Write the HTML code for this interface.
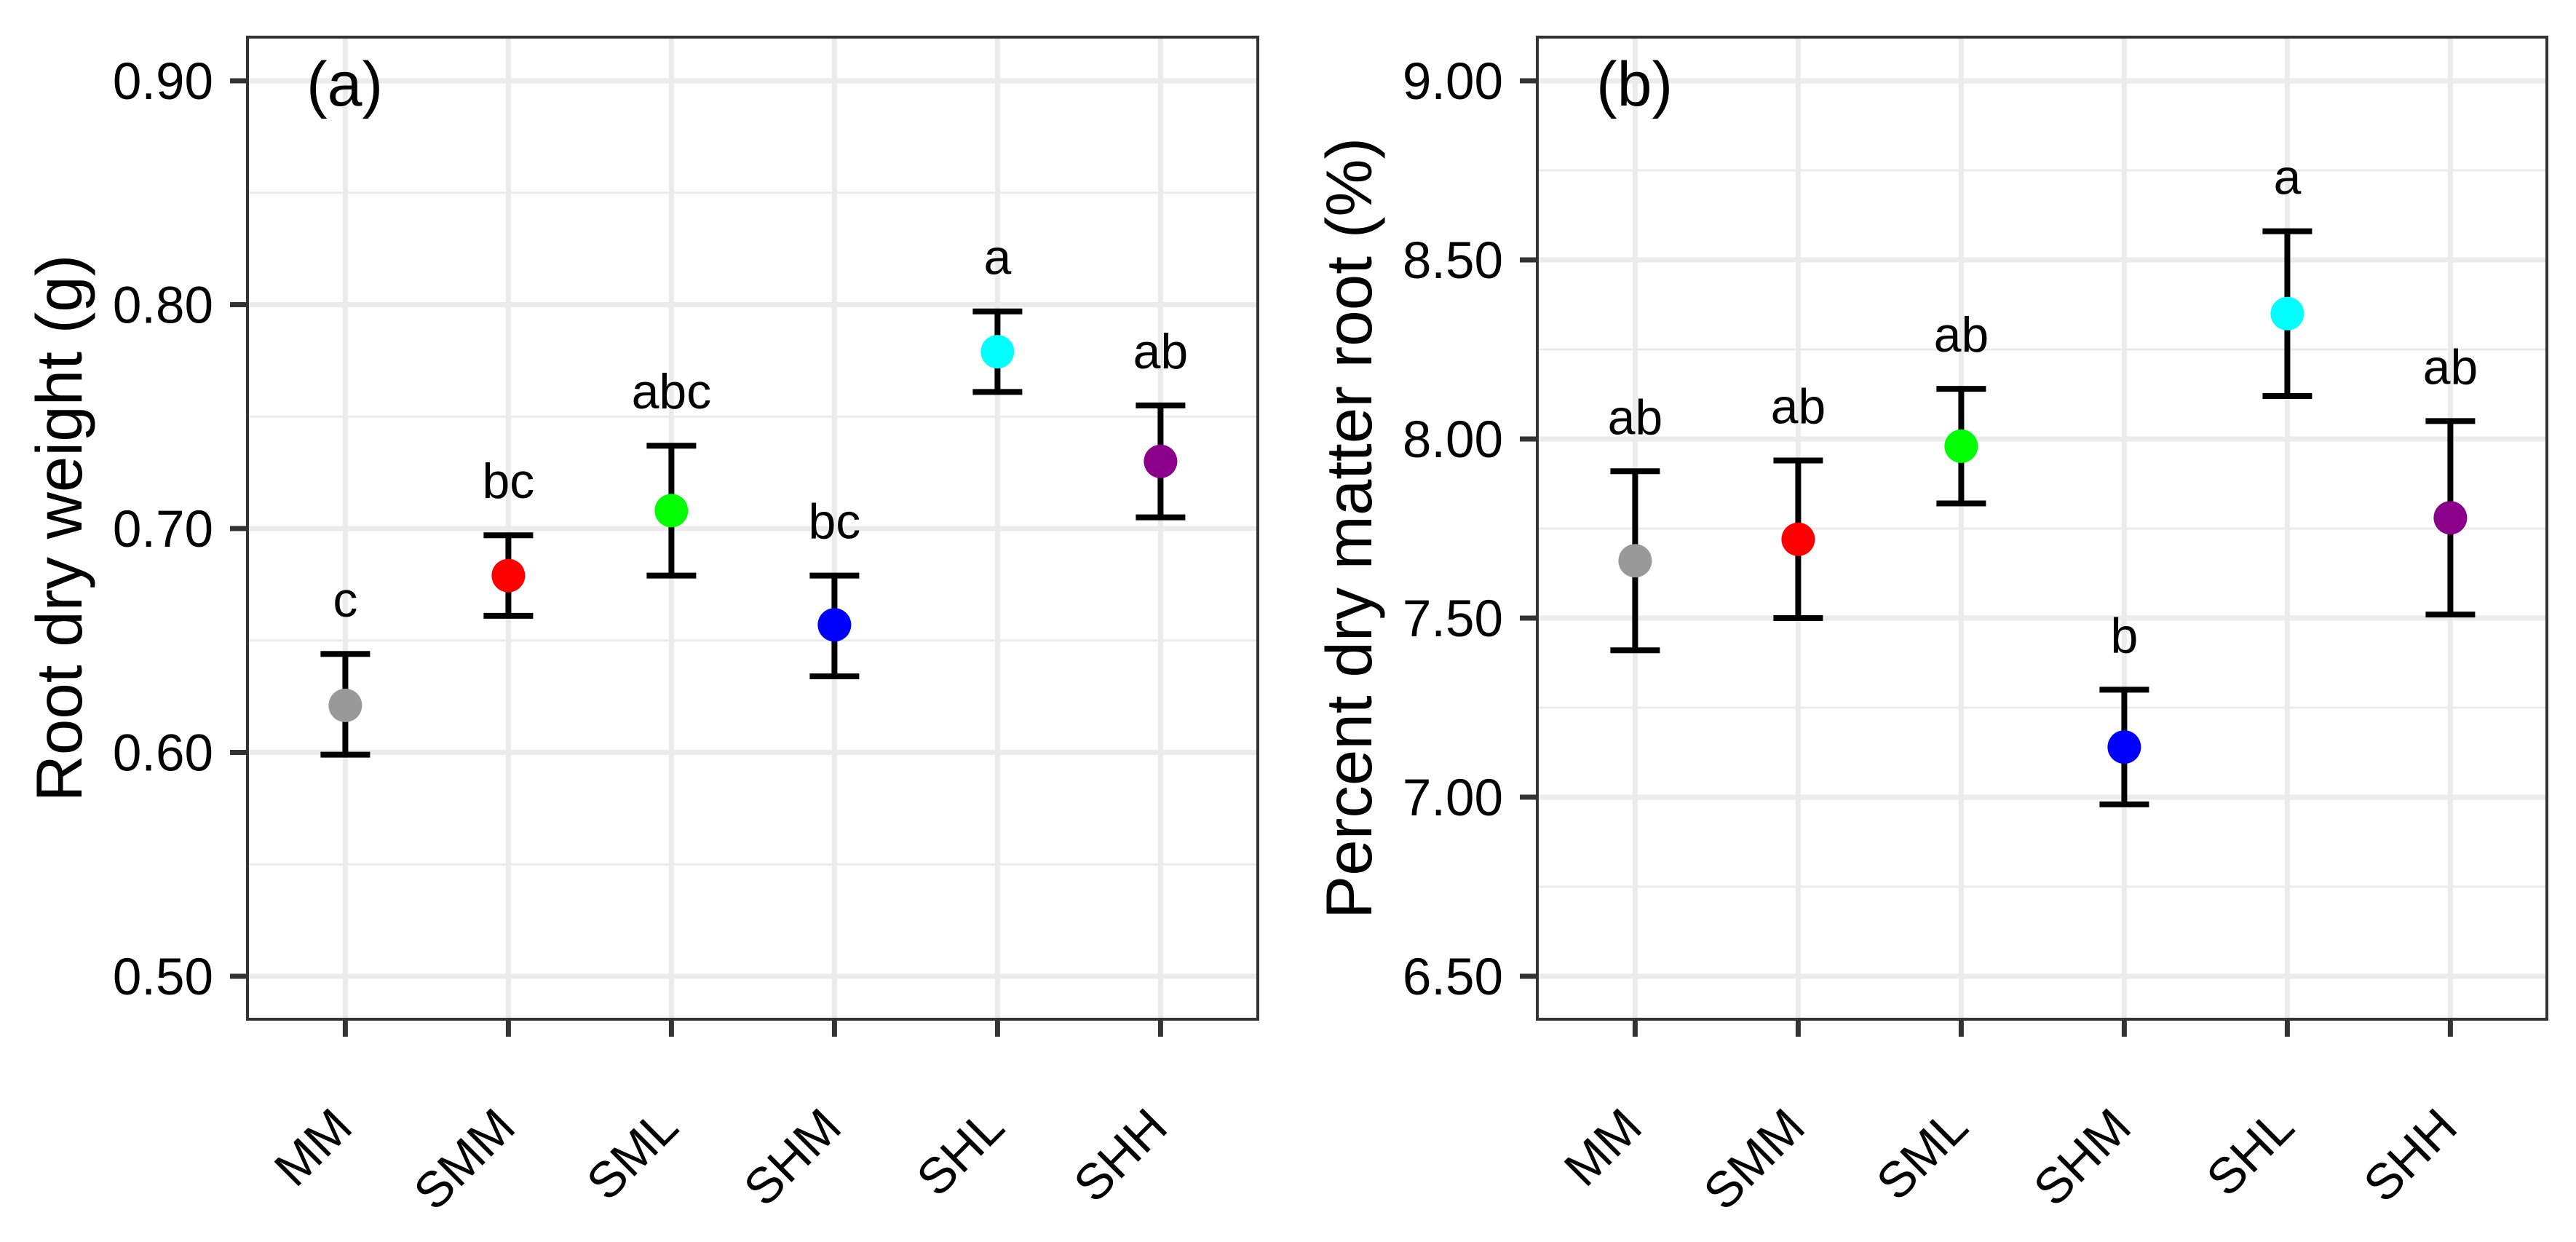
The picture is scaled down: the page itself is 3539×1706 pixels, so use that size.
<!DOCTYPE html>
<html><head><meta charset="utf-8"><style>
html,body{margin:0;padding:0;background:#fff}
svg{display:block;font-family:"Liberation Sans",Arial,sans-serif}
</style></head><body>
<svg id="chart" width="3539" height="1706" viewBox="0 0 3539 1706" xmlns="http://www.w3.org/2000/svg"></svg>
<script>
const categories = ["MM","SMM","SML","SHM","SHL","SHH"];
const colors = ["#999999","#ff0000","#00ff00","#0000ff","#00ffff","#8b008b"];
const meanA = [0.621,0.679,0.708,0.657,0.779,0.730];
const upperA = [0.644,0.697,0.737,0.679,0.797,0.755];
const lowerA = [0.599,0.661,0.679,0.634,0.761,0.705];
const lettersA = ["c","bc","abc","bc","a","ab"];
const ticksA = [0.5,0.6,0.7,0.8,0.9];
const tickLabelsA = ["0.50","0.60","0.70","0.80","0.90"];
const meanB = [7.66,7.72,7.98,7.14,8.35,7.78];
const upperB = [7.91,7.94,8.14,7.30,8.58,8.05];
const lowerB = [7.41,7.50,7.82,6.98,8.12,7.51];
const lettersB = ["ab","ab","ab","b","a","ab"];
const ticksB = [6.5,7.0,7.5,8.0,8.5,9.0];
const tickLabelsB = ["6.50","7.00","7.50","8.00","8.50","9.00"];

const svg = document.getElementById('chart');
const NS = "http://www.w3.org/2000/svg";
function mk(tag, attrs, parent){
  const e = document.createElementNS(NS, tag);
  for (const k in attrs) e.setAttribute(k, attrs[k]);
  (parent||svg).appendChild(e); return e;
}

function panel(cfg){
  const {left,right,top,bottom,yMin,yMax,ticks,tickLabels,mean,upper,lower,letters,title,tag,id,titleX} = cfg;
  const g = mk('g', {});
  
  
  const yTopV = ticks[ticks.length-1], yBotV = ticks[0];
  const y0 = 1341, y1 = 111;
  const yScale = v => y0 + (v - yBotV) / (yTopV - yBotV) * (y1 - y0);
  const step = 224;
  const xScale = i => left + 0.6*step + i*step;
  // minor grid
  for (let i=0;i<ticks.length+1;i++){
    const v = ticks[0] + (i-0.5)*(ticks[1]-ticks[0]);
    const y = yScale(v);
    if (y>top && y<bottom){
      const l = mk('line',{x1:left,x2:right,y1:y,y2:y,stroke:"#ebebeb","stroke-width":3},g);
      
      
    }
  }
  ticks.forEach((v,i)=>{
    const y = yScale(v);
    const l = mk('line',{x1:left,x2:right,y1:y,y2:y,stroke:"#ebebeb","stroke-width":7},g);
    
    
    const t = mk('line',{x1:left-24,x2:left,y1:y,y2:y,stroke:"#333","stroke-width":7},g);
    
    
    const tx = mk('text',{x:left-47,y:y+25,"text-anchor":"end","font-size":71,fill:"#000"},g);
    tx.textContent = tickLabels[i];
    
    
  });
  categories.forEach((c,i)=>{
    const x = xScale(i);
    const l = mk('line',{x1:x,x2:x,y1:top,y2:bottom,stroke:"#ebebeb","stroke-width":7},g);
    
    
    const t = mk('line',{x1:x,x2:x,y1:bottom,y2:bottom+24,stroke:"#333","stroke-width":7},g);
    
    
    const tx = mk('text',{x:0,y:0,"text-anchor":"end","font-size":69,fill:"#000",transform:`translate(${x+13},1552) rotate(-45)`},g);
    tx.textContent = c;
    
    
  });
  const border = mk('rect',{x:left,y:top,width:right-left,height:bottom-top,fill:"none",stroke:"#333","stroke-width":4},g);
  
  
  categories.forEach((c,i)=>{
    const x = xScale(i);
    const yu = yScale(upper[i]), yl = yScale(lower[i]);
    const eb = mk('path',{d:`M${x-34},${yu}H${x+34}M${x},${yu}V${yl}M${x-34},${yl}H${x+34}`,stroke:"#000","stroke-width":8,fill:"none"},g);
    
    
    const p = mk('circle',{cx:x,cy:yScale(mean[i]),r:23,fill:colors[i]},g);
    
    
    const lt = mk('text',{x:x,y:yu-51,"text-anchor":"middle","font-size":68,fill:"#000"},g);
    lt.textContent = letters[i];
    
    
  });
  const tg = mk('text',{x:left+81,y:145,"font-size":86,fill:"#000"},g);
  tg.textContent = tag;
  
  
  const tt = mk('text',{x:0,y:0,"text-anchor":"middle","font-size":89,fill:"#000",transform:`translate(${titleX},${(top+bottom)/2}) rotate(-90)`},g);
  tt.textContent = title;
  
  
}
panel({id:'a',left:340,right:1728,top:51,bottom:1400,ticks:ticksA,tickLabels:tickLabelsA,mean:meanA,upper:upperA,lower:lowerA,letters:lettersA,title:"Root dry weight (g)",tag:"(a)",titleX:112});
panel({id:'b',left:2112,right:3499,top:51,bottom:1400,ticks:ticksB,tickLabels:tickLabelsB,mean:meanB,upper:upperB,lower:lowerB,letters:lettersB,title:"Percent dry matter root (%)",tag:"(b)",titleX:1884});
</script>
</body></html>
